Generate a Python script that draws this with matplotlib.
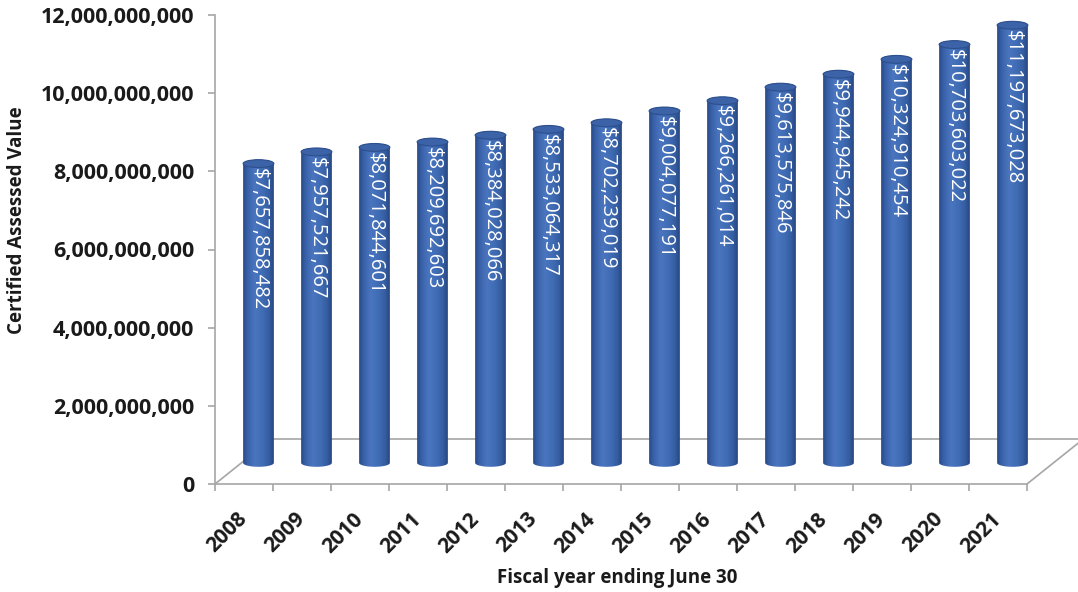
import numpy as np
import matplotlib
matplotlib.use("Agg")
import matplotlib.pyplot as plt
from matplotlib.colors import LinearSegmentedColormap
from matplotlib.patches import Polygon, Ellipse

plt.rcParams['font.family'] = ['Open Sans', 'DejaVu Sans']

# Data
years = ['2008', '2009', '2010', '2011', '2012', '2013', '2014',
         '2015', '2016', '2017', '2018', '2019', '2020', '2021']
values = [7657858482, 7957521667, 8071844601, 8209692603, 8384028066,
          8533064317, 8702239019, 9004077191, 9266261014, 9613575846,
          9944945242, 10324910454, 10703603022, 11197673028]
labels = ['$' + format(v, ',') for v in values]

# fake 3d geometry (data units)
bar_dx, bar_dy = 0.25, 0.54e9      # bars sit half way into the floor
floor_dx, floor_dy = 0.97, 1.15e9  # depth of the floor
bar_w = 0.53
ell_h = 0.2e9

fig = plt.figure(figsize=(10.78, 5.92), dpi=100)
ax = fig.add_axes([215 / 1078, 1 - 484 / 592, (1078 - 215) / 1078, (484 - 15) / 592])
n = len(years)
ax.set_xlim(-0.5, -0.5 + (1078 - 215) / 58.0)
ax.set_ylim(0, 12e9)

for s in ['top', 'right', 'bottom']:
    ax.spines[s].set_visible(False)
ax.spines['left'].set_color('#a6a6a6')
ax.spines['left'].set_linewidth(1.2)

gray = '#a6a6a6'
# floor
x0, x1 = -0.5, n - 0.5
ax.plot([x0, x1], [0, 0], color=gray, lw=1.2, clip_on=False, zorder=1)
ax.plot([x0, x0 + floor_dx], [0, floor_dy], color=gray, lw=1.2, clip_on=False, zorder=1)
ax.plot([x1, x1 + floor_dx], [0, floor_dy], color=gray, lw=1.2, clip_on=False, zorder=1)
ax.plot([x0 + floor_dx, x1 + floor_dx], [floor_dy, floor_dy], color=gray, lw=1.2,
        clip_on=False, zorder=1)

cmap = LinearSegmentedColormap.from_list('cyl', [
    (0.0, '#284a88'), (0.15, '#3a62aa'), (0.38, '#4a75bf'),
    (0.62, '#416db6'), (0.85, '#355ea2'), (1.0, '#264682')])
grad = np.linspace(0, 1, 64).reshape(1, -1)

t_bot = np.linspace(np.pi, 2 * np.pi, 40)
t_top = np.linspace(0, np.pi, 40)
for i, v in enumerate(values):
    cx = i + bar_dx
    yb = bar_dy
    yt = v + bar_dy
    xs = np.concatenate([cx + bar_w / 2 * np.cos(t_bot), cx + bar_w / 2 * np.cos(t_top)])
    ys = np.concatenate([yb + ell_h / 2 * np.sin(t_bot), yt + ell_h / 2 * np.sin(t_top)])
    outline = Polygon(np.column_stack([xs, ys]), closed=True, transform=ax.transData)
    im = ax.imshow(grad, cmap=cmap, aspect='auto', interpolation='bilinear',
                   extent=(cx - bar_w / 2, cx + bar_w / 2, yb - ell_h, yt + ell_h),
                   zorder=3)
    im.set_clip_path(outline)
    ax.add_patch(Ellipse((cx, yt), bar_w, ell_h, facecolor='#3c63a8',
                         edgecolor='#2d4f8c', lw=0.8, zorder=4))
    ax.text(cx, yt - 0.12e9, labels[i], rotation=270, ha='center', va='top',
            color='white', fontsize=14.5, zorder=5)

ax.set_yticks(np.arange(0, 12e9 + 1, 2e9))
ax.set_yticklabels([format(int(t), ',') for t in np.arange(0, 12e9 + 1, 2e9)],
                   fontsize=15.5, fontweight='bold', color='#1a1a1a')
ax.tick_params(axis='y', length=5, width=1.2, color=gray, pad=10)

ax.set_xticks(np.arange(n + 1) - 0.5)
ax.set_xticklabels([])
ax.tick_params(axis='x', which='major', length=5, width=1.2, color=gray)
ax.set_xticks(np.arange(n), minor=True)
ax.set_xticklabels(years, minor=True, rotation=45, ha='right', va='center',
                   rotation_mode='anchor', fontsize=15, fontweight='bold', color='#1a1a1a')
ax.tick_params(axis='x', which='minor', length=0, pad=23)

fig.text(617 / 1078, 1 - 578 / 592, 'Fiscal year ending June 30', ha='center', va='center',
         fontsize=13.5, fontweight='bold', color='#1a1a1a')
fig.text(17 / 1078, 1 - 220 / 592, 'Certified Assessed Value', ha='center', va='center',
         rotation=90, fontsize=13.5, fontweight='bold', color='#1a1a1a')

fig.savefig('out.png', dpi=100)
